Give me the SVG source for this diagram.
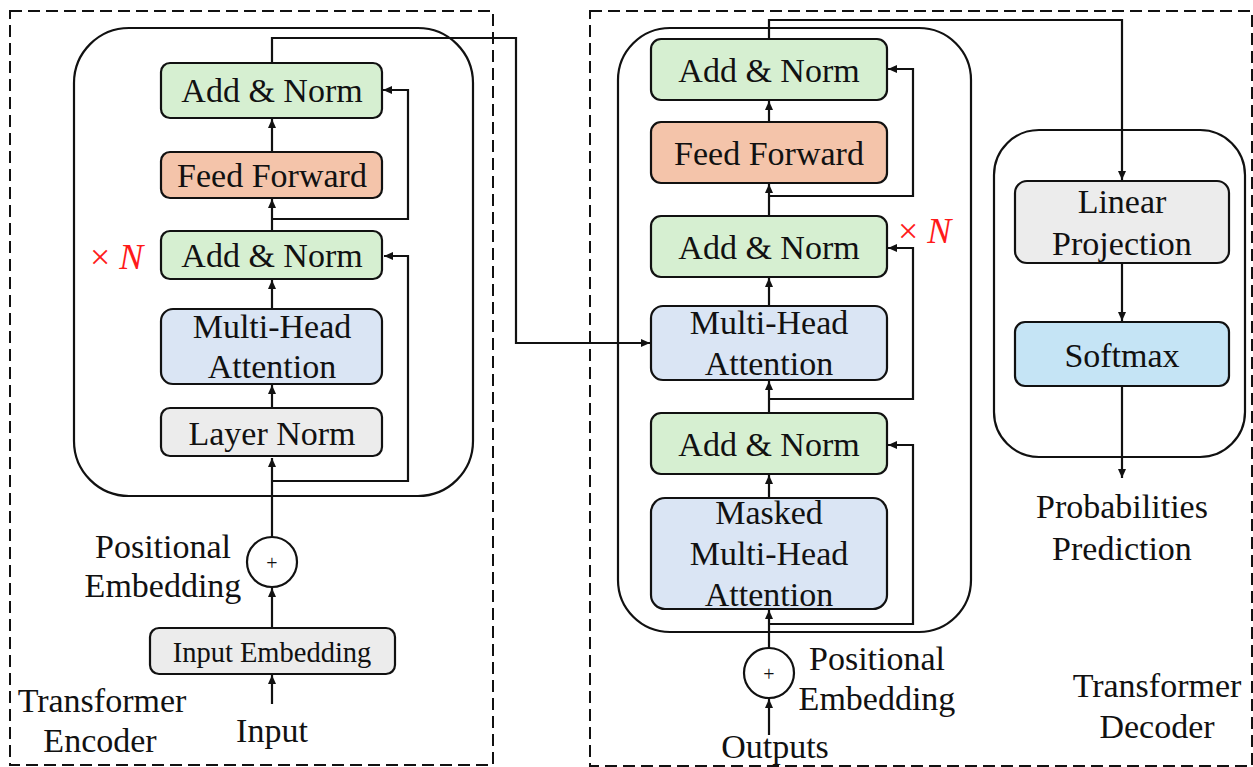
<svg xmlns="http://www.w3.org/2000/svg" width="1253" height="767" viewBox="0 0 1253 767">
<style>
.t{font-family:"Liberation Serif","Times New Roman",serif;fill:#111;text-anchor:middle}
.b{font-size:34px}
.s{font-size:28.5px}
.box{stroke:#111;stroke-width:2.2}
.green{fill:#d6efd1}
.orange{fill:#f4c4aa}
.blue{fill:#dae5f4}
.gray{fill:#ececec}
.sky{fill:#c5e4f5}
.dash{fill:none;stroke:#111;stroke-width:2;stroke-dasharray:12 6}
.frame{fill:none;stroke:#111;stroke-width:2.2}
.ln{fill:none;stroke:#111;stroke-width:2.2}
.xn{font-family:"Liberation Serif","Times New Roman",serif;font-size:36px;fill:#ff1a1a}
</style>
<defs>
<marker id="ah" markerUnits="userSpaceOnUse" markerWidth="10" markerHeight="8" refX="9" refY="4" orient="auto">
<path d="M0,0 L9,4 L0,8 z" fill="#111"/>
</marker>
</defs>
<rect width="1253" height="767" fill="#fff"/>

<g id="encoder-frame">
<rect class="dash" x="10" y="11" width="483" height="754"/>
<rect class="frame" x="74" y="28" width="399" height="468" rx="55"/>
<text class="t b" x="102" y="712">Transformer</text>
<text class="t b" x="100" y="752">Encoder</text>
<text class="xn" x="90" y="269">× <tspan font-style="italic">N</tspan></text>
</g>

<g id="decoder-frame">
<rect class="dash" x="590" y="11" width="662" height="755"/>
<rect class="frame" x="618" y="28" width="353" height="604" rx="52"/>
<rect class="frame" x="994" y="130" width="251" height="327" rx="45"/>
<text class="t b" x="1157" y="697">Transformer</text>
<text class="t b" x="1157" y="738">Decoder</text>
<text class="xn" x="898" y="243">× <tspan font-style="italic">N</tspan></text>
</g>

<g id="connectors">
<!-- encoder -->
<line class="ln" x1="272" y1="704" x2="272" y2="675" marker-end="url(#ah)"/>
<line class="ln" x1="272" y1="628" x2="272" y2="588" marker-end="url(#ah)"/>
<line class="ln" x1="272" y1="537" x2="272" y2="458" marker-end="url(#ah)"/>
<polyline class="ln" points="272,481 408,481 408,256 384,256" marker-end="url(#ah)"/>
<line class="ln" x1="272" y1="408" x2="272" y2="385" marker-end="url(#ah)"/>
<line class="ln" x1="272" y1="309" x2="272" y2="280" marker-end="url(#ah)"/>
<line class="ln" x1="272" y1="231" x2="272" y2="199" marker-end="url(#ah)"/>
<polyline class="ln" points="272,219 408,219 408,90 383,90" marker-end="url(#ah)"/>
<line class="ln" x1="272" y1="152" x2="272" y2="119" marker-end="url(#ah)"/>
<polyline class="ln" points="272,63 272,38 516,38 516,343 650,343" marker-end="url(#ah)"/>
<!-- decoder -->
<line class="ln" x1="769" y1="735" x2="769" y2="699" marker-end="url(#ah)"/>
<line class="ln" x1="769" y1="648" x2="769" y2="610" marker-end="url(#ah)"/>
<polyline class="ln" points="769,624 913,624 913,445 888,445" marker-end="url(#ah)"/>
<line class="ln" x1="769" y1="498" x2="769" y2="475" marker-end="url(#ah)"/>
<line class="ln" x1="769" y1="413" x2="769" y2="381" marker-end="url(#ah)"/>
<polyline class="ln" points="769,399 913,399 913,248 888,248" marker-end="url(#ah)"/>
<line class="ln" x1="769" y1="306" x2="769" y2="278" marker-end="url(#ah)"/>
<line class="ln" x1="769" y1="216" x2="769" y2="184" marker-end="url(#ah)"/>
<polyline class="ln" points="769,196 913,196 913,69 888,69" marker-end="url(#ah)"/>
<line class="ln" x1="769" y1="122" x2="769" y2="101" marker-end="url(#ah)"/>
<polyline class="ln" points="769,39 769,20 1122,20 1122,180" marker-end="url(#ah)"/>
<line class="ln" x1="1122" y1="263" x2="1122" y2="321" marker-end="url(#ah)"/>
<line class="ln" x1="1122" y1="386" x2="1122" y2="478" marker-end="url(#ah)"/>
</g>

<g id="enc-addnorm-top">
<rect class="box green" x="161" y="63" width="221" height="55" rx="9"/>
<text class="t b" x="272" y="102">Add &amp; Norm</text>
</g>
<g id="enc-feedforward">
<rect class="box orange" x="161" y="152" width="221" height="46" rx="9"/>
<text class="t b" x="272" y="187">Feed Forward</text>
</g>
<g id="enc-addnorm">
<rect class="box green" x="161" y="231" width="221" height="48" rx="9"/>
<text class="t b" x="272" y="267">Add &amp; Norm</text>
</g>
<g id="enc-mha">
<rect class="box blue" x="161" y="309" width="221" height="75" rx="12"/>
<text class="t b" x="272" y="338">Multi-Head</text>
<text class="t b" x="272" y="378">Attention</text>
</g>
<g id="enc-layernorm">
<rect class="box gray" x="161" y="408" width="221" height="48" rx="9"/>
<text class="t b" x="272" y="445">Layer Norm</text>
</g>
<g id="enc-plus">
<circle cx="272" cy="562" r="25" fill="#fff" stroke="#111" stroke-width="2.2"/>
<text class="t" x="272" y="570" font-size="20">+</text>
<text class="t b" x="163" y="558">Positional</text>
<text class="t b" x="163" y="597">Embedding</text>
</g>
<g id="enc-inputembedding">
<rect class="box gray" x="150" y="628" width="245" height="46" rx="9"/>
<text class="t s" x="272" y="662">Input Embedding</text>
</g>
<g id="enc-input">
<text class="t b" x="272" y="742">Input</text>
</g>

<g id="dec-addnorm-top">
<rect class="box green" x="651" y="39" width="236" height="61" rx="10"/>
<text class="t b" x="769" y="82">Add &amp; Norm</text>
</g>
<g id="dec-feedforward">
<rect class="box orange" x="651" y="122" width="236" height="61" rx="10"/>
<text class="t b" x="769" y="165">Feed Forward</text>
</g>
<g id="dec-addnorm-mid">
<rect class="box green" x="651" y="216" width="236" height="61" rx="10"/>
<text class="t b" x="769" y="259">Add &amp; Norm</text>
</g>
<g id="dec-mha">
<rect class="box blue" x="651" y="306" width="236" height="74" rx="12"/>
<text class="t b" x="769" y="334">Multi-Head</text>
<text class="t b" x="769" y="375">Attention</text>
</g>
<g id="dec-addnorm-low">
<rect class="box green" x="651" y="413" width="236" height="61" rx="10"/>
<text class="t b" x="769" y="456">Add &amp; Norm</text>
</g>
<g id="dec-masked-mha">
<rect class="box blue" x="651" y="498" width="236" height="111" rx="14"/>
<text class="t b" x="769" y="524">Masked</text>
<text class="t b" x="769" y="565">Multi-Head</text>
<text class="t b" x="769" y="606">Attention</text>
</g>
<g id="dec-plus">
<circle cx="769" cy="673" r="25" fill="#fff" stroke="#111" stroke-width="2.2"/>
<text class="t" x="769" y="681" font-size="20">+</text>
<text class="t b" x="877" y="670">Positional</text>
<text class="t b" x="877" y="710">Embedding</text>
</g>
<g id="dec-outputs">
<text class="t b" x="775" y="758">Outputs</text>
</g>
<g id="linear-projection">
<rect class="box gray" x="1015" y="181" width="214" height="82" rx="12"/>
<text class="t b" x="1122" y="213">Linear</text>
<text class="t b" x="1122" y="255">Projection</text>
</g>
<g id="softmax">
<rect class="box sky" x="1015" y="322" width="214" height="64" rx="10"/>
<text class="t b" x="1122" y="367">Softmax</text>
</g>
<g id="probabilities">
<text class="t b" x="1122" y="518">Probabilities</text>
<text class="t b" x="1122" y="560">Prediction</text>
</g>
</svg>
